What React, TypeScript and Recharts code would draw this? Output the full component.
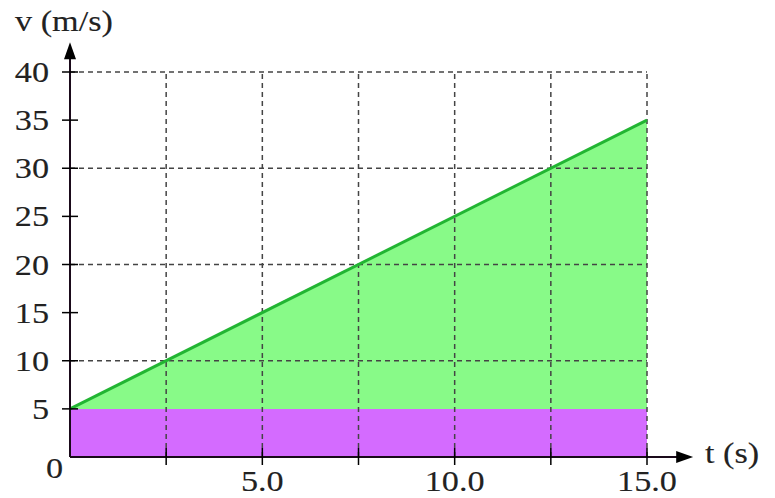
import React from 'react';
import { ComposedChart, Area, Line, XAxis, YAxis, ReferenceLine } from 'recharts';

const times = [0, 15];
const velocity = [5, 35];
const baseVelocity = [5, 5];

const xTicks = [0, 2.5, 5, 7.5, 10, 12.5, 15];
const xLabels: Record<number, string> = { 5: '5.0', 10: '10.0', 15: '15.0' };
const yTicks = [0, 5, 10, 15, 20, 25, 30, 35, 40];
const yGrid = [10, 20, 30, 40];
const xGrid = [2.5, 5, 7.5, 10, 12.5, 15];

const data = times.map((t, i) => ({ t, v: velocity[i], base: baseVelocity[i] }));

const FONT = '"Liberation Serif", "Times New Roman", serif';

const Txt = ({ x, y, anchor, children }: any) => (
  <g transform={`translate(${x},${y}) scale(1.18,1)`}>
    <text
      x={0}
      y={0}
      textAnchor={anchor}
      fontFamily={FONT}
      fontSize={29}
      fill="#222"
      stroke="#222"
      strokeWidth={0.12}
    >
      {children}
    </text>
  </g>
);

const XTick = (props: any) => {
  const { x, y, payload } = props;
  const v = payload.value;
  return (
    <g>
      {v !== 0 && <line x1={x} x2={x} y1={y - 9} y2={y + 8} stroke="#000" strokeWidth={1.5} />}
      {xLabels[v] && <Txt x={x} y={y + 34} anchor="middle">{xLabels[v]}</Txt>}
    </g>
  );
};

const YTick = (props: any) => {
  const { x, y, payload } = props;
  const v = payload.value;
  if (v === 0) {
    return <Txt x={x - 7} y={y + 21} anchor="end">0</Txt>;
  }
  return (
    <g>
      <line x1={x - 8} x2={x + 8} y1={y} y2={y} stroke="#000" strokeWidth={1.5} />
      <Txt x={x - 21} y={y + 10} anchor="end">{String(v)}</Txt>
    </g>
  );
};

const XArrow = (props: any) => {
  const { x1, y1, x2, y2 } = props;
  return (
    <g>
      <line x1={x1} y1={y1} x2={x2 - 10} y2={y2} stroke="#1a0a1a" strokeWidth={2} />
      <polygon points={`${x2},${y2} ${x2 - 17},${y2 - 6} ${x2 - 17},${y2 + 6}`} fill="#000" />
    </g>
  );
};

const YArrow = (props: any) => {
  const { x1, y1, x2, y2 } = props;
  const top = Math.min(y1, y2);
  const bottom = Math.max(y1, y2);
  return (
    <g>
      <line x1={x1} y1={bottom} x2={x2} y2={top + 10} stroke="#1a0a1a" strokeWidth={2} />
      <polygon points={`${x1},${top} ${x1 - 6},${top + 17} ${x1 + 6},${top + 17}`} fill="#000" />
    </g>
  );
};

export default function App() {
  return (
    <div style={{ position: 'absolute', left: 0, top: 0, width: 775, height: 498, background: '#fff' }}>
      <ComposedChart
        width={775}
        height={498}
        data={data}
        margin={{ top: 72, right: 128, bottom: 1, left: 10 }}
      >
        <XAxis
          type="number"
          dataKey="t"
          domain={[0, 15]}
          ticks={xTicks}
          axisLine={false}
          tickLine={false}
          tickSize={0}
          tickMargin={0}
          height={40}
          tick={<XTick />}
          interval={0}
        />
        <YAxis
          type="number"
          domain={[0, 40]}
          ticks={yTicks}
          axisLine={false}
          tickLine={false}
          tickSize={0}
          tickMargin={0}
          width={60}
          tick={<YTick />}
          interval={0}
        />
        <Area dataKey="v" type="linear" fill="#88FA88" fillOpacity={1} stroke="none" isAnimationActive={false} />
        <Area dataKey="base" type="linear" fill="#D46BFF" fillOpacity={1} stroke="none" isAnimationActive={false} />
        {yGrid.map((v) => (
          <ReferenceLine key={'h' + v} y={v} stroke="#444" strokeWidth={1.5} strokeDasharray="5 4" />
        ))}
        {xGrid.map((t) => (
          <ReferenceLine key={'v' + t} x={t} stroke="#444" strokeWidth={1.5} strokeDasharray="5 4" />
        ))}
        <Line dataKey="v" type="linear" stroke="#22B533" strokeWidth={3} dot={false} isAnimationActive={false} />
        <ReferenceLine
          segment={[{ x: 0, y: 0 }, { x: 16.2, y: 0 }]}
          ifOverflow="visible"
          shape={<XArrow />}
        />
        <ReferenceLine
          segment={[{ x: 0, y: 0 }, { x: 0, y: 43.1 }]}
          ifOverflow="visible"
          shape={<YArrow />}
        />
      </ComposedChart>
      <svg width={775} height={498} style={{ position: 'absolute', left: 0, top: 0, pointerEvents: 'none' }}>
        <Txt x={15} y={31} anchor="start">v (m/s)</Txt>
        <Txt x={705} y={463} anchor="start">t (s)</Txt>
      </svg>
    </div>
  );
}
